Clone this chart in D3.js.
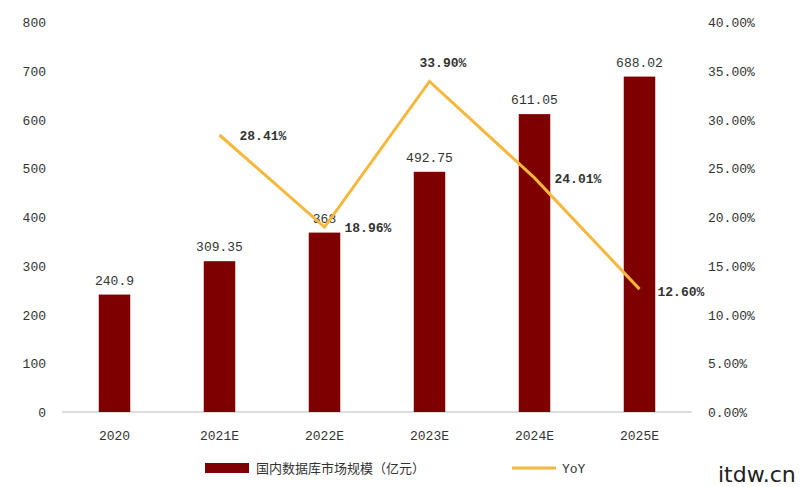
<!DOCTYPE html>
<html><head><meta charset="utf-8">
<script src="https://d3js.org/d3.v7.min.js"></script>
<style>body{margin:0;background:#fff}text{font-family:"Liberation Mono","DejaVu Sans Mono",monospace;fill:#333}</style>
</head><body>
<svg id="chart" width="800" height="487"></svg>
<script>
var years = ["2020","2021E","2022E","2023E","2024E","2025E"];
var market = [240.9, 309.35, 368, 492.75, 611.05, 688.02];
var marketLabels = ["240.9","309.35","368","492.75","611.05","688.02"];
var yoy = [null, 28.41, 18.96, 33.90, 24.01, 12.60];
var leftTicks = [0,100,200,300,400,500,600,700,800];
var rightTicks = [0,5,10,15,20,25,30,35,40];

var svg = d3.select("#chart");
var plotL = 62, plotR = 692, plotT = 22, plotB = 412;

var x = d3.scaleBand().domain(years).range([plotL, plotR]).paddingInner(0.7).paddingOuter(0.35);
var y = d3.scaleLinear().domain([0, 800]).range([plotB, plotT]);
var y2 = d3.scaleLinear().domain([0, 40]).range([plotB, plotT]);

// baseline
svg.append("line").attr("x1", plotL).attr("x2", plotR).attr("y1", plotB).attr("y2", plotB)
  .attr("stroke", "#bbb");

svg.selectAll(".lt").data(leftTicks).enter().append("text")
  .attr("x", 46).attr("y", d => y(d) + 5).attr("text-anchor", "end")
  .style("font-size", "13px").text(d => d);

svg.selectAll(".rt").data(rightTicks).enter().append("text")
  .attr("x", 708).attr("y", d => y2(d) + 5)
  .style("font-size", "13px").text(d => d.toFixed(2) + "%");

svg.selectAll(".xt").data(years).enter().append("text")
  .attr("x", d => x(d) + x.bandwidth() / 2).attr("y", 440).attr("text-anchor", "middle")
  .style("font-size", "13px").text(d => d);

svg.selectAll(".bar").data(market).enter().append("rect")
  .attr("x", (d, i) => x(years[i])).attr("width", x.bandwidth())
  .attr("y", d => y(d)).attr("height", d => plotB - y(d))
  .attr("fill", "#7f0000");

svg.selectAll(".bl").data(market).enter().append("text")
  .attr("x", (d, i) => x(years[i]) + x.bandwidth() / 2).attr("y", d => y(d) - 10)
  .attr("text-anchor", "middle").style("font-size", "13px")
  .text((d, i) => marketLabels[i]);

var pts = yoy.map((v, i) => [years[i], v]).filter(p => p[1] !== null);
var line = d3.line().x(p => x(p[0]) + x.bandwidth() / 2).y(p => y2(p[1]));
svg.append("path").datum(pts).attr("d", line).attr("fill", "none")
  .attr("stroke", "#f5b83d").attr("stroke-width", 3);

var offs = {"2021E":[20,5],"2022E":[20,5],"2023E":[-10,-14],"2024E":[20,5],"2025E":[18,7]};
svg.selectAll(".yl").data(pts).enter().append("text")
  .attr("x", p => x(p[0]) + x.bandwidth() / 2 + offs[p[0]][0])
  .attr("y", p => y2(p[1]) + offs[p[0]][1])
  .style("font-size", "13px").style("font-weight", "bold")
  .text(p => p[1].toFixed(2) + "%");

// legend
svg.append("rect").attr("x", 205).attr("y", 463).attr("width", 44).attr("height", 10).attr("fill", "#7f0000");
svg.append("text").attr("x", 256).attr("y", 473).style("font-size", "13px")
  .style("font-family", "'Noto Sans CJK SC'").text("国内数据库市场规模（亿元）");
svg.append("line").attr("x1", 512).attr("x2", 556).attr("y1", 468).attr("y2", 468)
  .attr("stroke", "#f5b83d").attr("stroke-width", 3);
svg.append("text").attr("x", 562).attr("y", 473).style("font-size", "13px").text("YoY");

svg.append("text").attr("x", 718).attr("y", 482).style("font-size", "22px")
  .style("font-family", "'DejaVu Sans'").style("fill", "#222").text("itdw.cn");
</script>
</body></html>
